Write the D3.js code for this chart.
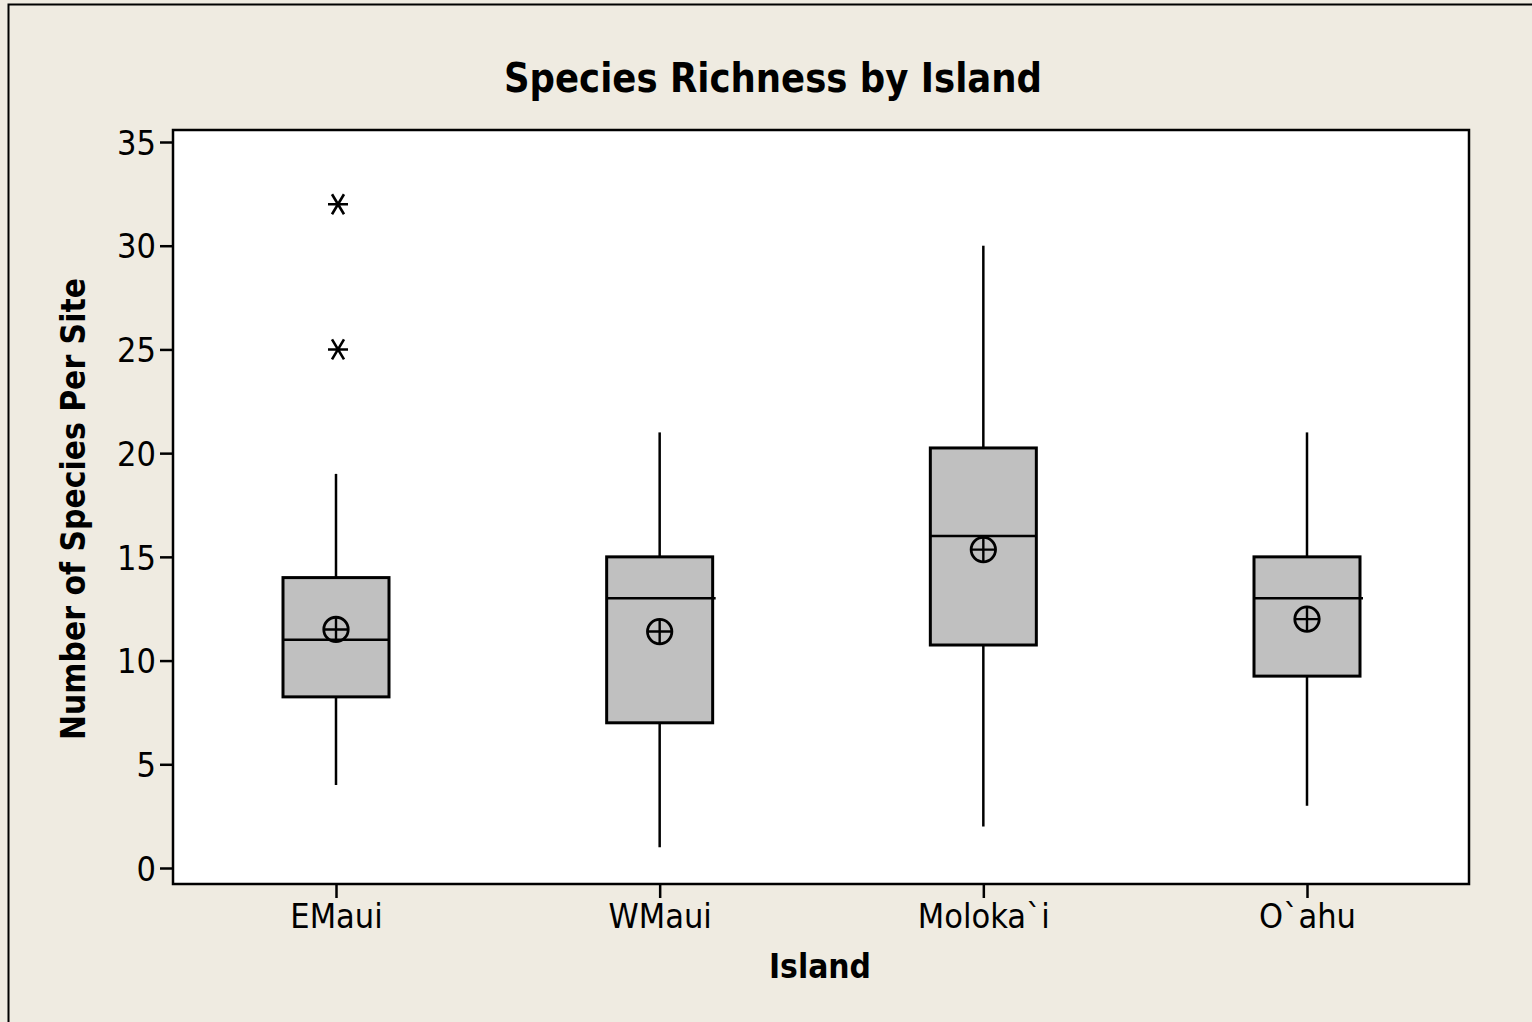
<!DOCTYPE html>
<html><head><meta charset="utf-8">
<script src="https://cdn.jsdelivr.net/npm/d3@7"></script>
<style>
html,body{margin:0;padding:0;background:#EFEBE1;}
svg{display:block;}
text{font-family:"DejaVu Sans Condensed","DejaVu Sans",sans-serif;font-stretch:condensed;fill:#000;}
</style></head>
<body>
<script>
const categories = ["EMaui", "WMaui", "Moloka`i", "O`ahu"];
const q1Values      = [8.25, 7, 10.75, 9.25];
const medianValues  = [11, 13, 16, 13];
const q3Values      = [14, 15, 20.25, 15];
const whiskerLow    = [4, 1, 2, 3];
const whiskerHigh   = [19, 21, 30, 21];
const meanValues    = [11.5, 11.4, 15.35, 12.0];
const outliers      = [{cat: "EMaui", value: 32}, {cat: "EMaui", value: 25}];
const yTicks        = [0, 5, 10, 15, 20, 25, 30, 35];

const W = 1532, H = 1022;
const plot = {left: 173, right: 1469, top: 130, bottom: 884};

const svg = d3.select("body").append("svg").attr("width", W).attr("height", H);
svg.append("rect").attr("width", W).attr("height", H).attr("fill", "#EFEBE1");
svg.append("path").attr("d", `M8.5,${H} L8.5,4.5 L${W},4.5`).attr("fill","none").attr("stroke","#000").attr("stroke-width",2);

const y = d3.scaleLinear().domain([0, 35]).range([868, 142]);
const x = d3.scalePoint().domain(categories).range([336, 1307]);
const boxW = 106;

svg.append("rect").attr("x", plot.left).attr("y", plot.top)
  .attr("width", plot.right - plot.left).attr("height", plot.bottom - plot.top)
  .attr("fill", "#fff").attr("stroke", "#000").attr("stroke-width", 2.5);

const fam = '"DejaVu Sans Condensed","DejaVu Sans",sans-serif';

const yAxis = d3.axisLeft(y).tickValues(yTicks).tickSize(13).tickPadding(4);
const gy = svg.append("g").attr("transform", `translate(${plot.left},0)`).call(yAxis);
gy.select(".domain").remove();
gy.selectAll(".tick line").attr("stroke", "#000").attr("stroke-width", 2.5);
gy.selectAll(".tick text").attr("font-size", 34).attr("dy", "0.36em").style("font-family", fam);

const xAxis = d3.axisBottom(x).tickSize(14).tickPadding(5);
const gx = svg.append("g").attr("transform", `translate(0,${plot.bottom})`).call(xAxis);
gx.select(".domain").remove();
gx.selectAll(".tick line").attr("stroke", "#000").attr("stroke-width", 2.5);
gx.selectAll(".tick text").attr("font-size", 34).attr("dy", "0.74em").style("font-family", fam);

const data = categories.map((c, i) => ({
  cat: c, q1: q1Values[i], med: medianValues[i], q3: q3Values[i],
  lo: whiskerLow[i], hi: whiskerHigh[i], mean: meanValues[i]
}));

const g = svg.append("g");
g.selectAll("line.wlo").data(data).join("line")
  .attr("x1", d => x(d.cat)).attr("x2", d => x(d.cat))
  .attr("y1", d => y(d.q1)).attr("y2", d => y(d.lo))
  .attr("stroke", "#000").attr("stroke-width", 2.5);
g.selectAll("line.whi").data(data).join("line")
  .attr("x1", d => x(d.cat)).attr("x2", d => x(d.cat))
  .attr("y1", d => y(d.q3)).attr("y2", d => y(d.hi))
  .attr("stroke", "#000").attr("stroke-width", 2.5);
g.selectAll("rect.box").data(data).join("rect")
  .attr("x", d => x(d.cat) - boxW / 2).attr("width", boxW)
  .attr("y", d => y(d.q3)).attr("height", d => y(d.q1) - y(d.q3))
  .attr("fill", "#C0C0C0").attr("stroke", "#000").attr("stroke-width", 3);
g.selectAll("line.med").data(data).join("line")
  .attr("x1", d => x(d.cat) - boxW / 2).attr("x2", d => x(d.cat) + boxW / 2 + (d.cat === "EMaui" || d.cat === "Moloka`i" ? 0 : 3))
  .attr("y1", d => y(d.med)).attr("y2", d => y(d.med))
  .attr("stroke", "#000").attr("stroke-width", 2.5);
const mg = g.selectAll("g.mean").data(data).join("g")
  .attr("transform", d => `translate(${x(d.cat)},${y(d.mean)})`);
mg.append("circle").attr("r", 12.2).attr("fill", "none").attr("stroke", "#000").attr("stroke-width", 2.8);
mg.append("path").attr("d", "M-12,0 L12,0 M0,-12 L0,12").attr("stroke", "#000").attr("stroke-width", 2.4);
const og = g.selectAll("g.out").data(outliers).join("g")
  .attr("transform", d => `translate(${x(d.cat) + 2},${y(d.value)})`);
og.append("path")
  .attr("d", "M-10,0 L10,0 M-6,-10 L6,10 M6,-10 L-6,10")
  .attr("stroke", "#000").attr("stroke-width", 2.6).attr("fill", "none");

svg.append("text").attr("x", 773).attr("y", 92).attr("text-anchor", "middle")
  .attr("font-size", 41).attr("font-weight", "bold")
  .attr("textLength", 538).attr("lengthAdjust", "spacingAndGlyphs")
  .text("Species Richness by Island");
svg.append("text").attr("x", 820).attr("y", 978).attr("text-anchor", "middle")
  .attr("font-size", 34).attr("font-weight", "bold")
  .attr("textLength", 102).attr("lengthAdjust", "spacingAndGlyphs")
  .text("Island");
svg.append("text").attr("transform", "translate(85,509) rotate(-90)")
  .attr("text-anchor", "middle")
  .attr("font-size", 34).attr("font-weight", "bold")
  .attr("textLength", 462).attr("lengthAdjust", "spacingAndGlyphs")
  .text("Number of Species Per Site");
</script>
</body></html>
